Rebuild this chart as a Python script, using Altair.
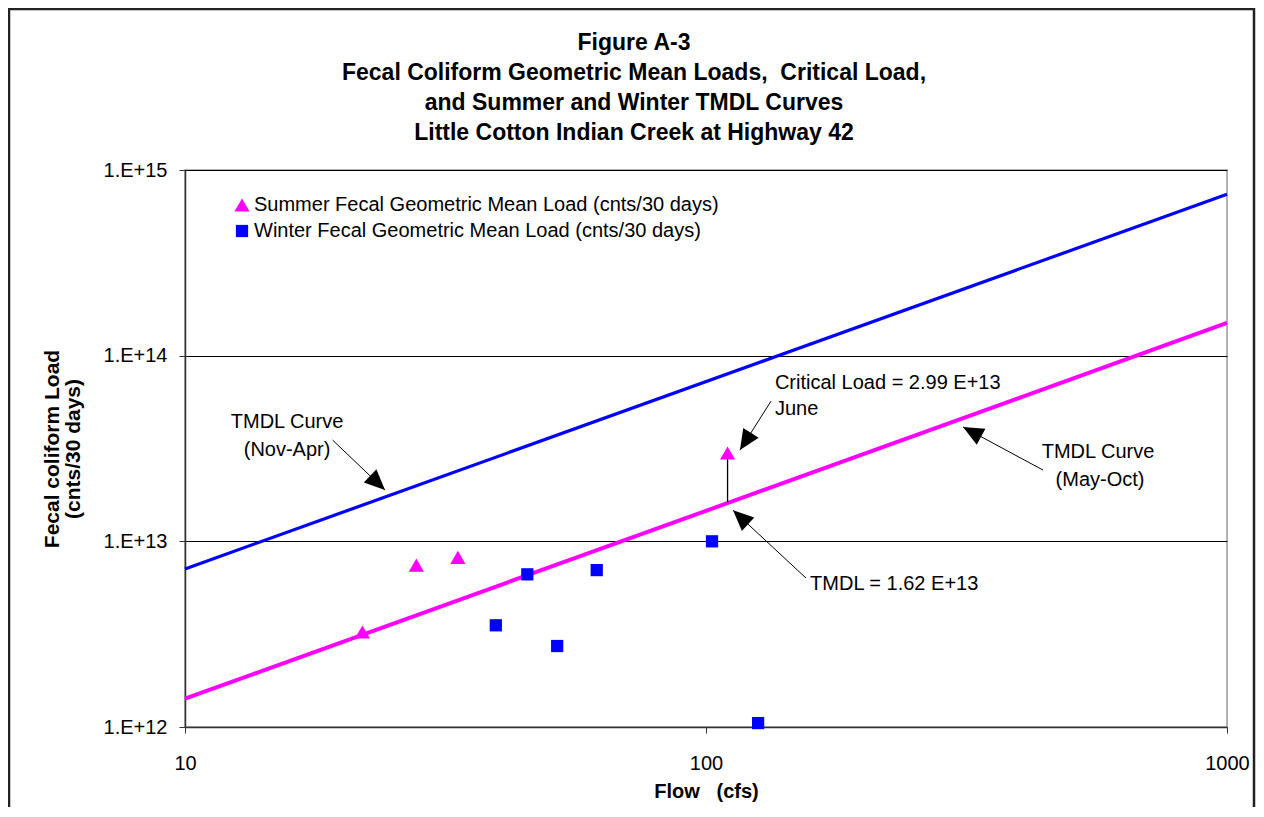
import math
import altair as alt
import pandas as pd

# ---------------- data ----------------
summer_label = "Summer Fecal Geometric Mean Load (cnts/30 days)"
winter_label = "Winter Fecal Geometric Mean Load (cnts/30 days)"

summer_flow = [21.9, 27.8, 33.4, 110.0]
summer_load = [3.25e12, 7.45e12, 8.2e12, 2.99e13]
winter_flow = [39.5, 45.4, 51.8, 61.7, 102.7, 125.9]
winter_load = [3.53e12, 6.64e12, 2.73e12, 7.0e12, 1.0e13, 1.05e12]

curve_flow = [10, 1000]
summer_tmdl = [1.42e12, 1.5e14]
winter_tmdl = [7.1e12, 7.4e14]

critical_flow = [110.0]
critical_tmdl = [1.62e13]
critical_load = [2.99e13]

arrow_tail_flow = [19.2, 133.3, 443.5, 155.6]
arrow_tail_load = [3.51e13, 5.69e13, 2.42e13, 6.34e12]
arrow_head_flow = [24.2, 116.2, 311.4, 112.7]
arrow_head_load = [1.89e13, 3.10e13, 4.13e13, 1.47e13]

center_note_text = ["TMDL Curve", "(Nov-Apr)", "TMDL Curve", "(May-Oct)"]
center_note_flow = [15.7, 15.7, 565.4, 570.5]
center_note_load = [4.39e13, 3.10e13, 3.03e13, 2.14e13]
left_note_text = ["Critical Load = 2.99 E+13", "June", "TMDL = 1.62 E+13"]
left_note_flow = [135.6, 135.6, 158.4]
left_note_load = [7.12e13, 5.16e13, 5.89e12]

title_lines = ["Figure A-3",
               "Fecal Coliform Geometric Mean Loads,\u00a0 Critical Load,",
               "and Summer and Winter TMDL Curves",
               "Little Cotton Indian Creek at Highway 42"]
x_ticks = [10, 100, 1000]
y_ticks = [1e12, 1e13, 1e14, 1e15]

# ---------------- layout ----------------
W, H = 1042, 557
FONT = "Liberation Sans"
FS = 20
px_dec_x = W / 2.0
px_dec_y = H / 3.0

points = pd.DataFrame(
    {"flow": summer_flow + winter_flow,
     "load": summer_load + winter_load,
     "series": [summer_label] * len(summer_flow) + [winter_label] * len(winter_flow)})
summer_curve = pd.DataFrame({"flow": curve_flow, "load": summer_tmdl})
winter_curve = pd.DataFrame({"flow": curve_flow, "load": winter_tmdl})

def arrow_angle(tf, tl, hf, hl):
    dx = (math.log10(hf) - math.log10(tf)) * px_dec_x
    dy = -(math.log10(hl) - math.log10(tl)) * px_dec_y
    return (math.degrees(math.atan2(dx, -dy)) + 360) % 360

arrows = pd.DataFrame({
    "tail_flow": arrow_tail_flow, "tail_load": arrow_tail_load,
    "head_flow": arrow_head_flow, "head_load": arrow_head_load,
    "angle": [arrow_angle(a, b, c, d) for a, b, c, d in
              zip(arrow_tail_flow, arrow_tail_load, arrow_head_flow, arrow_head_load)]})
crit = pd.DataFrame({"flow": critical_flow, "tmdl": critical_tmdl, "load": critical_load})
cnotes = pd.DataFrame({"flow": center_note_flow, "load": center_note_load, "text": center_note_text})
lnotes = pd.DataFrame({"flow": left_note_flow, "load": left_note_load, "text": left_note_text})

x_axis = alt.Axis(values=x_ticks, labelExpr="format(datum.value, 'd')", grid=False,
                  labelFlush=False,
                  labelFont=FONT, labelFontSize=FS, labelColor="#000", labelPadding=20,
                  tickSize=6, tickColor="#333", domainColor="#333", domainWidth=1.5,
                  titleFont=FONT, titleFontSize=20, titleFontWeight="bold", titleColor="#000",
                  titlePadding=8)
y_axis = alt.Axis(values=y_ticks, labelExpr="'1.E+' + round(log(datum.value) / LN10)",
                  grid=True, gridColor="#000", gridWidth=1.2, gridOpacity=1,
                  labelFont=FONT, labelFontSize=FS, labelColor="#000", labelPadding=12,
                  tickSize=6, tickColor="#333", domainColor="#333", domainWidth=1.5,
                  titleFont=FONT, titleFontSize=21, titleFontWeight="bold", titleColor="#000",
                  titleX=-133, titleY=H / 2, titleBaseline="middle", titleAngle=270,
                  titleAlign="center", titleLineHeight=21)
xs = alt.Scale(type="log", domain=[10, 1000], nice=False)
ys = alt.Scale(type="log", domain=[1e12, 1e15], nice=False)
XT = "Flow\u00a0\u00a0\u00a0(cfs)"
YT = ["Fecal coliform Load", "(cnts/30 days)"]

def X(f):
    return alt.X(f, type="quantitative", scale=xs, axis=x_axis, title=XT)

def Y(f):
    return alt.Y(f, type="quantitative", scale=ys, axis=y_axis, title=YT)

one = alt.Data(values=[{}])

border = alt.Chart(one).mark_rect(
    fillOpacity=0, stroke="#222", strokeWidth=2.5).encode(
    x=alt.value(-176), x2=alt.value(1069), y=alt.value(-161), y2=alt.value(700))

title = alt.Chart(one).mark_text(
    font=FONT, fontSize=23, fontWeight="bold", color="#000", align="center",
    baseline="top", lineHeight=30, text=title_lines).encode(
    x=alt.value(449), y=alt.value(-138))

summer_line = alt.Chart(summer_curve).mark_line(strokeWidth=4, color="#FF00FF").encode(
    x=X("flow"), y=Y("load"))
winter_line = alt.Chart(winter_curve).mark_line(strokeWidth=3.2, color="#0000FF").encode(
    x=X("flow"), y=Y("load"))

crit_rule = alt.Chart(crit).mark_rule(color="#000", strokeWidth=1.3).encode(
    x=X("flow"), y=Y("tmdl"), y2="load")

arrow_lines = alt.Chart(arrows).mark_rule(color="#000", strokeWidth=1).encode(
    x=X("tail_flow"), y=Y("tail_load"), x2="head_flow", y2="head_load")

arrow_heads = alt.Chart(arrows).mark_point(
    shape="M0,0L0.8,1.8L-0.8,1.8Z", filled=True, color="#000", opacity=1, size=520).encode(
    x=X("head_flow"), y=Y("head_load"), angle=alt.Angle("angle:Q", scale=None))

ctext = alt.Chart(cnotes).mark_text(font=FONT, fontSize=FS, align="center",
                                    baseline="middle", color="#000").encode(
    x=X("flow"), y=Y("load"), text="text:N")
ltext = alt.Chart(lnotes).mark_text(font=FONT, fontSize=FS, align="left",
                                    baseline="middle", color="#000").encode(
    x=X("flow"), y=Y("load"), text="text:N")

legend = alt.Legend(orient="none", legendX=47, legendY=25, title=None,
                    labelFont=FONT, labelFontSize=FS, labelColor="#000", labelLimit=2000,
                    symbolSize=170, rowPadding=6, padding=0, labelOffset=2,
                    symbolStrokeWidth=0)
dom = [summer_label, winter_label]
pts = alt.Chart(points).mark_point(filled=True, opacity=1).encode(
    x=X("flow"), y=Y("load"),
    color=alt.Color("series:N", scale=alt.Scale(domain=dom, range=["#FF00FF", "#0000FF"]),
                    legend=legend),
    shape=alt.Shape("series:N", scale=alt.Scale(domain=dom, range=["triangle-up", "square"]),
                    legend=legend),
    size=alt.Size("series:N", scale=alt.Scale(domain=dom, range=[230, 150]), legend=None))

chart = alt.layer(border, title, winter_line, summer_line, crit_rule, arrow_lines,
                  arrow_heads, ctext, ltext, pts).properties(
    width=W, height=H,
    padding={"left": 177, "top": 162, "right": 29, "bottom": 80},
    autosize=alt.AutoSizeParams(type="none"),
    background="white",
).configure_view(stroke="#999", strokeWidth=1.5)

chart.save("out.html", embed_options={"renderer": "svg", "actions": False})
